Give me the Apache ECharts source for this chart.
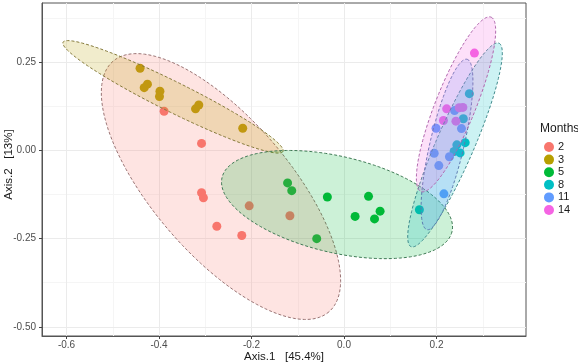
<!DOCTYPE html>
<html>
<head>
<meta charset="utf-8">
<script src="https://cdn.jsdelivr.net/npm/echarts@6/dist/echarts.min.js"></script>
<style>
html,body{margin:0;padding:0;background:#fff;}
#chart{width:578px;height:364px;}
</style>
</head>
<body>
<div id="chart"></div>
<script>
// ---- data ----
const months = ['2', '3', '5', '8', '11', '14'];
const colors = ['#F8766D', '#B79F00', '#00BA38', '#00BFC4', '#619CFF', '#F564E3'];
const outlineColors = ['#9a7474', '#857a3a', '#3f7a55', '#3f8a8c', '#5d7bb0', '#b066ad'];

const m2  = [[-0.389, 0.111], [-0.308, 0.020], [-0.308, -0.120], [-0.304, -0.134], [-0.275, -0.215], [-0.221, -0.241], [-0.205, -0.157], [-0.117, -0.185]];
const m3  = [[-0.441, 0.233], [-0.425, 0.188], [-0.432, 0.178], [-0.398, 0.168], [-0.399, 0.153], [-0.314, 0.129], [-0.321, 0.118], [-0.219, 0.063]];
const m5  = [[-0.122, -0.092], [-0.113, -0.114], [-0.036, -0.132], [0.053, -0.130], [0.024, -0.187], [0.078, -0.172], [0.066, -0.194], [-0.059, -0.250]];
const m8  = [[0.163, -0.168], [0.271, 0.161], [0.258, 0.090], [0.244, 0.016], [0.262, 0.022], [0.251, -0.007], [0.238, -0.003]];
const m11 = [[0.239, 0.113], [0.199, 0.063], [0.254, 0.062], [0.195, -0.008], [0.205, -0.043], [0.228, -0.018], [0.216, -0.123]];
const m14 = [[0.282, 0.276], [0.222, 0.118], [0.249, 0.121], [0.257, 0.122], [0.215, 0.085], [0.242, 0.083]];
const groups = [m2, m3, m5, m8, m11, m14];

// ellipse (stat_ellipse): centre and two conjugate semi-axis vectors, data units
const ellipseCenter = [[-0.266, -0.1023], [-0.3697, 0.152], [-0.0151, -0.1534], [0.2400, 0.0156], [0.2227, 0.0170], [0.2422, 0.1307]];
const ellipseAxisA  = [[0.2335, -0.3551], [0.2378, -0.1548], [0.2486, -0.0767], [0.0951, 0.2884], [0.0432, 0.2415], [0.0757, 0.2472]];
const ellipseAxisB  = [[-0.1114, -0.1261], [-0.01449, -0.0381], [-0.0238, -0.1328], [0.0376, -0.0216], [0.0357, -0.0111], [0.0402, -0.0210]];

const xRange = [-0.653, 0.3935];
const yRange = [-0.526, 0.418];
const xTitle = 'Axis.1   [45.4%]';
const yTitle = 'Axis.2   [13%]';
const legendTitle = 'Months';

// ---- chart ----
const FONT = 'Liberation Sans, Arial, sans-serif';
function hexA(hex, a) {
  const r = parseInt(hex.slice(1, 3), 16), g = parseInt(hex.slice(3, 5), 16), b = parseInt(hex.slice(5, 7), 16);
  return 'rgba(' + r + ',' + g + ',' + b + ',' + a + ')';
}

const series = [];
groups.forEach(function (pts, i) {
  series.push({
    name: months[i], type: 'scatter', xAxisIndex: 0, yAxisIndex: 0,
    data: pts, symbol: 'circle', symbolSize: 9, z: 2,
    itemStyle: { color: colors[i], opacity: 1 },
    emphasis: { disabled: true }
  });
});
groups.forEach(function (pts, i) {
  const c = ellipseCenter[i], a = ellipseAxisA[i], b = ellipseAxisB[i];
  series.push({
    name: 'ellipse' + months[i], type: 'custom', xAxisIndex: 0, yAxisIndex: 0,
    z: 3 + i, clip: true, silent: true,
    data: [c],
    renderItem: function (params, api) {
      const N = 160, poly = [];
      for (let k = 0; k < N; k++) {
        const t = 2 * Math.PI * k / N;
        const ct = Math.cos(t), st = Math.sin(t);
        poly.push(api.coord([c[0] + a[0] * ct + b[0] * st, c[1] + a[1] * ct + b[1] * st]));
      }
      return {
        type: 'polygon', shape: { points: poly },
        style: { fill: hexA(colors[i], 0.2), stroke: outlineColors[i], lineWidth: 1, lineDash: [3, 2] }
      };
    }
  });
});

const axisTextColor = '#4d4d4d';
const chart = echarts.init(document.getElementById('chart'), null, { renderer: 'canvas' });
chart.setOption({
  backgroundColor: '#ffffff',
  animation: false,
  title: {
    text: legendTitle, left: 535, top: 118,
    textStyle: { fontFamily: FONT, fontSize: 12, fontWeight: 'normal', color: '#1a1a1a' }
  },
  legend: {
    data: months, orient: 'vertical', left: 539, top: 136.5,
    icon: 'circle', itemWidth: 10, itemHeight: 10, itemGap: 1.6,
    textStyle: { fontFamily: FONT, fontSize: 11, color: '#1a1a1a', padding: [0, 0, 0, -1] },
    selectedMode: false
  },
  grid: {
    left: 42, top: 3, right: 52, bottom: 28, containLabel: false, outerBoundsMode: 'none',
    show: true, borderColor: '#555555', borderWidth: 1, backgroundColor: '#ffffff'
  },
  xAxis: [{
    type: 'value', min: xRange[0], max: xRange[1], minInterval: 0.2, maxInterval: 0.2, z: 2,
    name: xTitle, nameLocation: 'middle', nameGap: 15, nameMoveOverlap: false,
    nameTextStyle: { fontFamily: FONT, fontSize: 11.5, color: '#1a1a1a' },
    axisLine: { show: true, onZero: false, lineStyle: { color: '#555555', width: 1 } },
    axisTick: { show: true, length: 3, lineStyle: { color: '#444444' } },
    axisLabel: { show: true, margin: 4, fontFamily: FONT, fontSize: 10, color: axisTextColor, showMinLabel: false, showMaxLabel: false,
      formatter: function (v) { return v.toFixed(1); } },
    splitLine: { show: true, showMinLine: false, showMaxLine: false, lineStyle: { color: '#ebebeb', width: 1 } }
  }, {
    type: 'value', min: xRange[0], max: xRange[1], minInterval: 0.1, maxInterval: 0.1, z: 1, position: 'top',
    axisLine: { show: false }, axisTick: { show: false }, axisLabel: { show: false },
    splitLine: { show: true, showMinLine: false, showMaxLine: false, lineStyle: { color: '#f5f5f5', width: 1 } }
  }],
  yAxis: [{
    type: 'value', min: yRange[0], max: yRange[1], minInterval: 0.25, maxInterval: 0.25, z: 2,
    name: yTitle, nameLocation: 'middle', nameGap: 27, nameRotate: 90, nameMoveOverlap: false,
    nameTextStyle: { fontFamily: FONT, fontSize: 11.5, color: '#1a1a1a', padding: [0, 0, 0, 10] },
    axisLine: { show: true, onZero: false, lineStyle: { color: '#555555', width: 1 } },
    axisTick: { show: true, length: 3, lineStyle: { color: '#444444' } },
    axisLabel: { show: true, margin: 6, fontFamily: FONT, fontSize: 10, color: axisTextColor, showMinLabel: false, showMaxLabel: false,
      formatter: function (v) { return v.toFixed(2); } },
    splitLine: { show: true, showMinLine: false, showMaxLine: false, lineStyle: { color: '#ebebeb', width: 1 } }
  }, {
    type: 'value', min: yRange[0], max: yRange[1], minInterval: 0.125, maxInterval: 0.125, z: 1, position: 'right',
    axisLine: { show: false }, axisTick: { show: false }, axisLabel: { show: false },
    splitLine: { show: true, showMinLine: false, showMaxLine: false, lineStyle: { color: '#f5f5f5', width: 1 } }
  }],
  series: series
});
</script>
</body>
</html>
